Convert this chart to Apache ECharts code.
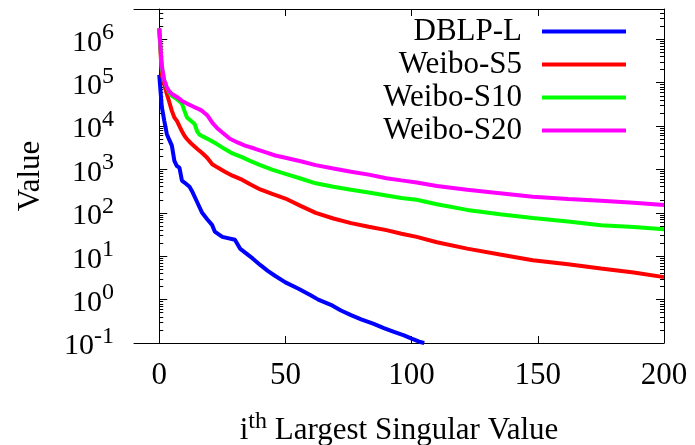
<!DOCTYPE html>
<html>
<head>
<meta charset="utf-8">
<script src="https://cdn.jsdelivr.net/npm/echarts@6/dist/echarts.min.js"></script>
<style>html,body{margin:0;padding:0;background:#fff}#c{width:695px;height:445px}</style>
</head>
<body>
<div id="c"></div>
<script>
const seriesNames = ['DBLP-L', 'Weibo-S5', 'Weibo-S10', 'Weibo-S20'];
const xTickValues = [0, 50, 100, 150, 200];
const yTickValues = [0.1, 1, 10, 100, 1000, 10000, 100000, 1000000];

const dblpX = [0,1,2,3,4,5,6,7,8,9,10,12,13,15,17,19,21,22,25,30,32,37,40,43,46,50,55,60,63,68,72,76,80,85,89,93,97,100,103,105];
const dblpY = [151000,28200,13200,6600,4800,3550,1580,1200,1100,550,500,400,316,178,100,71,52,37,28,24,15,8.9,6.3,4.6,3.5,2.5,1.8,1.26,1.0,0.76,0.56,0.44,0.35,0.275,0.22,0.18,0.15,0.126,0.107,0.1];

const s5X = [0,1,2,3,4,5,6,7,8,9,10,11,13,15,17,19,21,23,26,29,33,36,40,45,50,56,62,69,76,83,90,96,102,110,122,135,148,162,175,188,200];
const s5Y = [1780000,158000,89000,56000,35500,22400,15800,13200,10000,7600,6000,5000,3800,3000,2400,1860,1320,1120,890,720,575,457,347,269,214,145,100,74,58,48,40,33,28,21,15,11,8.1,6.5,5.2,4.2,3.3];

const s10X = [0,1,2,3,4,5,7,9,10,11,13,14,15,16,18,20,23,26,29,33,36,40,45,50,56,62,69,76,83,90,96,102,110,122,135,148,162,175,188,200];
const s10Y = [1780000,224000,112000,76000,59000,50000,41700,33100,22400,15800,12600,11200,7600,6300,5500,4800,3800,2950,2340,1900,1580,1260,980,790,620,480,400,340,295,250,219,200,158,117,93,76,63,52,47,42];

const s20X = [0,1,2,3,4,5,7,9,11,13,15,17,19,21,23,25,28,31,34,38,42,46,50,56,62,69,76,83,90,96,102,110,122,135,148,162,175,188,200];
const s20Y = [1780000,251000,112000,79000,63000,55000,47000,38000,33000,29000,25700,22400,17800,12000,8900,7100,5100,4200,3550,3000,2500,2100,1860,1550,1260,1050,890,760,630,560,500,417,339,282,234,209,190,170,151];

const colors = ['#0000ff', '#ff0000', '#00ff00', '#ff00ff'];
const xsList = [dblpX, s5X, s10X, s20X];
const ysList = [dblpY, s5Y, s10Y, s20Y];

const minorTickValues = [];
for (let k = -1; k <= 6; k++) {
  for (let m = 2; m <= 9; m++) minorTickValues.push(m * Math.pow(10, k));
}

const FONT = "'Liberation Serif', 'Times New Roman', serif";
const YMIN = 0.1, YMAX = 5000000;

function yAxisBase(pos) {
  return {
    type: 'log', logBase: 10, min: YMIN, max: YMAX, position: pos,
    splitLine: { show: false }, minorTick: { show: false }, minorSplitLine: { show: false }
  };
}

const yAxes = [
  Object.assign(yAxisBase('left'), {
    axisLine: { show: true, lineStyle: { color: '#000', width: 1 } },
    axisTick: { show: true, inside: true, length: 8, lineStyle: { color: '#000' }, customValues: yTickValues },
    axisLabel: {
      show: true, margin: 20, color: '#000', fontFamily: FONT, fontSize: 30, customValues: yTickValues,
      formatter: v => '{a|10}{b|' + Math.round(Math.log10(v)) + '}',
      rich: {
        a: { fontFamily: FONT, fontSize: 30, color: '#000', verticalAlign: 'bottom' },
        b: { fontFamily: FONT, fontSize: 24, color: '#000', verticalAlign: 'bottom', padding: [0, 0, 13, 0] }
      }
    },
    name: 'Value', nameLocation: 'middle', nameGap: 88, nameRotate: 90,
    nameTextStyle: { fontFamily: FONT, fontSize: 31, color: '#000' }
  }),
  Object.assign(yAxisBase('left'), {
    axisLine: { show: false }, axisLabel: { show: false },
    axisTick: { show: true, inside: true, length: 4, lineStyle: { color: '#000' }, customValues: minorTickValues }
  }),
  Object.assign(yAxisBase('right'), {
    axisLine: { show: true, lineStyle: { color: '#000', width: 1 } }, axisLabel: { show: false },
    axisTick: { show: true, inside: true, length: 8, lineStyle: { color: '#000' }, customValues: yTickValues }
  }),
  Object.assign(yAxisBase('right'), {
    axisLine: { show: false }, axisLabel: { show: false },
    axisTick: { show: true, inside: true, length: 4, lineStyle: { color: '#000' }, customValues: minorTickValues }
  })
];

const xAxes = [
  {
    type: 'value', min: -10, max: 200, position: 'bottom', splitLine: { show: false },
    axisLine: { show: true, onZero: false, lineStyle: { color: '#000', width: 1 } },
    axisTick: { show: true, inside: true, length: 7, lineStyle: { color: '#000' }, customValues: xTickValues },
    axisLabel: { show: true, margin: 17, color: '#000', fontFamily: FONT, fontSize: 31, customValues: xTickValues },
    name: '{n|i}{s|th}{n| Largest Singular Value}', nameLocation: 'middle', nameGap: 67,
    nameTextStyle: {
      fontFamily: FONT, fontSize: 31, color: '#000',
      rich: {
        n: { fontFamily: FONT, fontSize: 31, color: '#000', verticalAlign: 'bottom' },
        s: { fontFamily: FONT, fontSize: 24, color: '#000', verticalAlign: 'bottom', padding: [0, 0, 12, 0] }
      }
    }
  },
  {
    type: 'value', min: -10, max: 200, position: 'top', splitLine: { show: false },
    axisLine: { show: true, onZero: false, lineStyle: { color: '#000', width: 1 } },
    axisTick: { show: true, inside: true, length: 7, lineStyle: { color: '#000' }, customValues: xTickValues },
    axisLabel: { show: false }
  }
];

const series = seriesNames.map((name, s) => ({
  name: name, type: 'line', xAxisIndex: 0, yAxisIndex: 0,
  symbol: 'none', clip: true, animation: false,
  lineStyle: { color: colors[s], width: 4 },
  itemStyle: { color: colors[s] },
  data: xsList[s].map((x, i) => [x, ysList[s][i]])
}));

const chart = echarts.init(document.getElementById('c'), null, { renderer: 'canvas' });
chart.setOption({
  animation: false,
  backgroundColor: '#fff',
  textStyle: { fontFamily: FONT },
  grid: { left: 134, right: 31, top: 9, bottom: 102, containLabel: false, outerBoundsMode: 'none' },
  xAxis: xAxes,
  yAxis: yAxes,
  legend: {
    orient: 'vertical', align: 'right', right: 69, top: 16, padding: 0,
    icon: 'rect', itemWidth: 84, itemHeight: 4, itemGap: 2,
    data: seriesNames,
    textStyle: { fontFamily: FONT, fontSize: 31, color: '#000', lineHeight: 30, padding: [0, 15, 0, 0] }
  },
  series: series
});
</script>
</body>
</html>
